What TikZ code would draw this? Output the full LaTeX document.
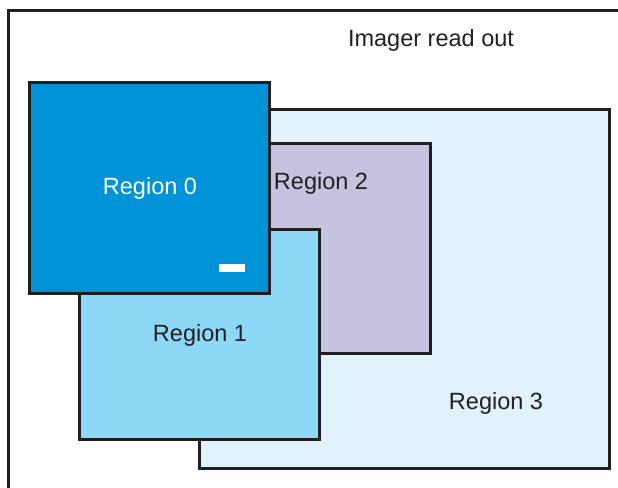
\documentclass[tikz,border=0pt]{standalone}
\usepackage{fontspec}
\setmainfont{Liberation Sans}
\usetikzlibrary{positioning}

\definecolor{outline}{HTML}{231F20}
\definecolor{reg0}{HTML}{0093D7}
\definecolor{reg1}{HTML}{8DD8F6}
\definecolor{reg2}{HTML}{C6C3E0}
\definecolor{reg3}{HTML}{E0F2FC}

\begin{document}
\begin{tikzpicture}[
  x=1pt, y=-1pt,
  region/.style={rectangle, draw=outline, line width=3pt, inner sep=0pt, outer sep=0pt, anchor=north west},
  frame/.style={draw=outline, line width=3pt},
  label/.style={font=\fontsize{23.5}{28}\selectfont, text=outline, inner sep=0pt}
]
\useasboundingbox (0,0) rectangle (618,487);

% Imager frame (only top and left edges inside the page)
\coordinate (framecorner) at (8,11);
\draw[frame] (8,495) -- (framecorner) -- (630,11);
\node[label] (imager) at (431,40.5) {Imager read out};

% Regions, back to front
\node[region, fill=reg3, minimum width=410pt, minimum height=359pt] (region3) at (199,109) {};
\node[region, fill=reg2, minimum width=161pt, minimum height=210pt] (region2) at (269,143) {};
\node[region, fill=reg1, minimum width=240pt, minimum height=210pt] (region1) at (79,229) {};
\node[region, fill=reg0, minimum width=240pt, minimum height=211pt] (region0) at (29,82) {};

% Labels
\node[label, text=white] (name0) at (150,188) {Region 0};
\node[label] (name1) at (200,335) {Region 1};
\node[label] (name2) at (321,183) {Region 2};
\node[label] (name3) at (496,403) {Region 3};

% small white mark in Region 0
\node[fill=white, inner sep=0pt, minimum width=26pt, minimum height=8pt] (mark) at (232,268) {};

\end{tikzpicture}
\end{document}
